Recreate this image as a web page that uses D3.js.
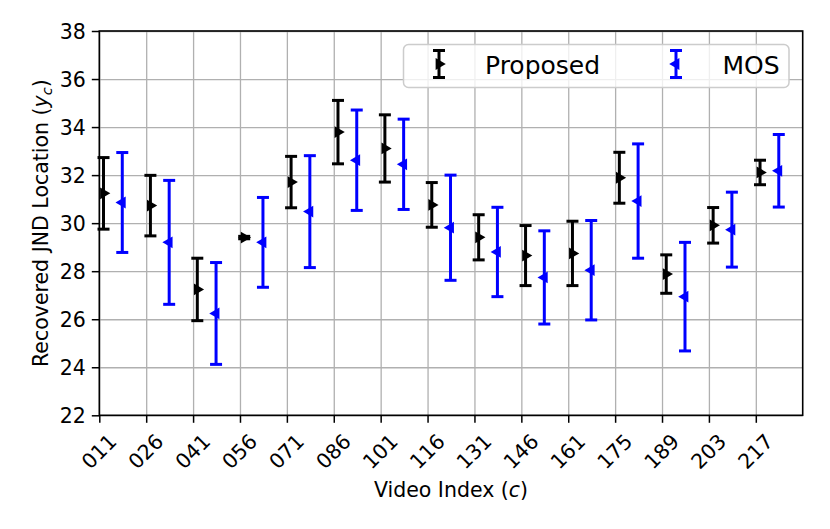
<!DOCTYPE html>
<html lang="en">
<head>
  <meta charset="UTF-8" />
  <title>Recovered JND Location</title>
  <script src="https://d3js.org/d3.v7.min.js"></script>
  <style>
    body {
      margin: 0;
      background: #fff;
      font-family: "DejaVu Sans", sans-serif;
    }
    svg text {
      font-family: "DejaVu Sans", sans-serif;
    }
  </style>
</head>
<body>
  <svg width="830" height="529"></svg>

  <script>
    // Data
    const categories = ["011", "026", "041", "056", "071", "086", "101", "116",
                        "131", "146", "161", "175", "189", "203", "217"];
    const proposedMean = [31.24, 30.73, 27.24, 29.40, 31.71, 33.79, 33.11, 30.76,
                          29.41, 28.65, 28.74, 31.89, 27.88, 29.91, 32.11];
    const proposedErr  = [1.49, 1.26, 1.30, 0.05, 1.07, 1.32, 1.40, 0.93,
                          0.94, 1.25, 1.34, 1.06, 0.80, 0.74, 0.51];
    const mosMean = [30.86, 29.20, 26.24, 29.20, 30.48, 32.62, 32.45, 29.81,
                     28.80, 27.74, 28.04, 30.92, 26.94, 29.73, 32.18];
    const mosErr  = [2.08, 2.58, 2.12, 1.87, 2.33, 2.09, 1.88, 2.19,
                     1.86, 1.94, 2.07, 2.38, 2.26, 1.56, 1.51];
    const yTicks = [22, 24, 26, 28, 30, 32, 34, 36, 38];

    const svg = d3.select("svg");
    const plotLeft = 99.3, plotRight = 802.7, plotTop = 31, plotBottom = 415.3;
    const fontSize = 20.5;

    const x = d3.scaleLinear().domain([0, 15]).range([plotLeft, plotRight]);
    const y = d3.scaleLinear().domain([22, 38]).range([plotBottom, plotTop]);

    // Grid
    svg.append("g")
      .attr("transform", `translate(0,${plotBottom})`)
      .call(d3.axisBottom(x).tickValues(d3.range(categories.length)).tickSize(-(plotBottom - plotTop)).tickFormat(""))
      .call(g => g.select(".domain").remove())
      .call(g => g.selectAll("line").attr("stroke", "#b0b0b0").attr("stroke-width", 1.3));
    svg.append("g")
      .attr("transform", `translate(${plotLeft},0)`)
      .call(d3.axisLeft(y).tickValues(yTicks).tickSize(-(plotRight - plotLeft)).tickFormat(""))
      .call(g => g.select(".domain").remove())
      .call(g => g.selectAll("line").attr("stroke", "#b0b0b0").attr("stroke-width", 1.3));

    // Error bar series
    const series = [
      { name: "Proposed", mean: proposedMean, err: proposedErr, offset: 0.09, color: "#000000", rot: 90 },
      { name: "MOS", mean: mosMean, err: mosErr, offset: 0.49, color: "#0000ff", rot: -90 }
    ];

    const tri = d3.symbol().type(d3.symbolTriangle).size(60);

    function drawBar(g, cx, yTop, yBot, cy, s) {
      g.append("line")
        .attr("x1", cx).attr("x2", cx).attr("y1", yTop).attr("y2", yBot)
        .attr("stroke", s.color).attr("stroke-width", 3);
      [yTop, yBot].forEach(v => {
        g.append("line")
          .attr("x1", cx - 6).attr("x2", cx + 6).attr("y1", v).attr("y2", v)
          .attr("stroke", s.color).attr("stroke-width", 3);
      });
      g.append("path")
        .attr("d", tri())
        .attr("transform", `translate(${cx},${cy}) rotate(${s.rot})`)
        .attr("fill", s.color);
    }

    series.forEach(s => {
      const g = svg.append("g");
      s.mean.forEach((m, i) => {
        drawBar(g, x(i + s.offset), y(m + s.err[i]), y(m - s.err[i]), y(m), s);
      });
    });

    // Axes
    const yAxis = svg.append("g")
      .attr("transform", `translate(${plotLeft},0)`)
      .call(d3.axisLeft(y).tickValues(yTicks).tickSize(7.5).tickPadding(6));
    const xAxis = svg.append("g")
      .attr("transform", `translate(0,${plotBottom})`)
      .call(d3.axisBottom(x).tickValues(d3.range(categories.length)).tickSize(7.5).tickFormat(i => categories[i]));

    [yAxis, xAxis].forEach(a => {
      a.select(".domain").remove();
      a.selectAll("line").attr("stroke", "#000").attr("stroke-width", 1.5);
      a.selectAll("text").attr("fill", "#000").attr("font-size", fontSize).attr("font-family", "DejaVu Sans");
    });
    yAxis.selectAll("text").attr("dy", "0.36em");
    xAxis.selectAll("text")
      .attr("y", 0)
      .attr("dy", "0.36em")
      .attr("text-anchor", "middle")
      .attr("transform", "translate(-1,36) rotate(-45)");

    // Frame
    svg.append("rect")
      .attr("x", plotLeft).attr("y", plotTop)
      .attr("width", plotRight - plotLeft).attr("height", plotBottom - plotTop)
      .attr("fill", "none").attr("stroke", "#000").attr("stroke-width", 1.6);

    // Axis labels
    const xl = svg.append("text")
      .attr("x", (plotLeft + plotRight) / 2).attr("y", 497)
      .attr("text-anchor", "middle").attr("font-size", fontSize);
    xl.append("tspan").text("Video Index (");
    xl.append("tspan").attr("font-style", "italic").text("c");
    xl.append("tspan").text(")");

    const yl = svg.append("text")
      .attr("transform", `translate(48,${(plotTop + plotBottom) / 2}) rotate(-90)`)
      .attr("text-anchor", "middle").attr("font-size", fontSize);
    yl.append("tspan").text("Recovered JND Location (");
    yl.append("tspan").attr("font-style", "italic").text("y");
    yl.append("tspan").attr("font-style", "italic").attr("font-size", 14.5).attr("dy", 4).text("c");
    yl.append("tspan").attr("dy", -4).text(")");

    // Legend
    const legend = svg.append("g");
    legend.append("rect")
      .attr("x", 403.5).attr("y", 44.5).attr("width", 385.5).attr("height", 43)
      .attr("rx", 5)
      .attr("fill", "rgba(255,255,255,0.8)")
      .attr("stroke", "#cccccc").attr("stroke-width", 1.5);
    const legendX = [439, 676];
    const textX = [485, 722.5];
    series.forEach((s, k) => {
      drawBar(legend, legendX[k], 50.5, 77.5, 64, s);
      legend.append("text")
        .attr("x", textX[k]).attr("y", 73.5)
        .attr("font-size", 25).attr("fill", "#000")
        .text(s.name);
    });
  </script>
</body>
</html>
